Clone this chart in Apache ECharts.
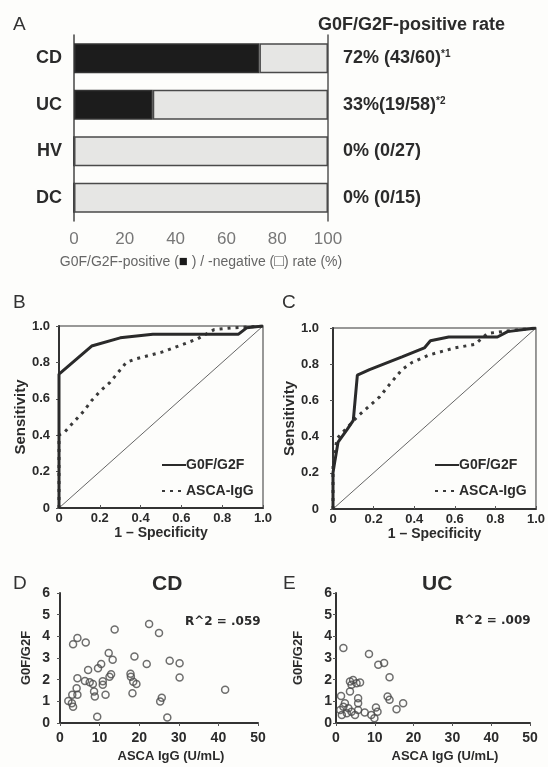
<!DOCTYPE html>
<html>
<head>
<meta charset="utf-8">
<script src="https://cdn.jsdelivr.net/npm/echarts@6/dist/echarts.min.js"></script>
<style>
    html, body { margin: 0; padding: 0; background: #fdfdfb; }
    #main { width: 548px; height: 767px; }
</style>
</head>
<body>
<div id="main"></div>
<script>
// panel A - positive / negative rate
var groups = ['CD', 'UC', 'HV', 'DC'];
var positiveRate = [73, 31, 0, 0];
var negativeRate = [27, 69, 100, 100];
var rateText = ['72% (43/60)', '33%(19/58)', '0% (0/27)', '0% (0/15)'];
var rateNote = ['*1', '*2', '', ''];
var rateTicks = [0, 20, 40, 60, 80, 100];

// panel B / C - ROC curves, [1 - specificity, sensitivity]
var rocB_g0f = [[0, 0], [0, 0.735], [0.16, 0.89], [0.30, 0.935], [0.46, 0.955], [0.88, 0.955], [0.92, 0.99], [1, 1]];
var rocB_asca = [[0, 0], [0, 0.40], [0.03, 0.42], [0.07, 0.47], [0.12, 0.53], [0.16, 0.59], [0.20, 0.64], [0.25, 0.69],
    [0.29, 0.745], [0.33, 0.80], [0.38, 0.82], [0.50, 0.855], [0.61, 0.90], [0.68, 0.93], [0.76, 0.98], [0.85, 0.99], [1, 1]];
var rocC_g0f = [[0, 0], [0, 0.20], [0.01, 0.27], [0.025, 0.37], [0.07, 0.44], [0.10, 0.49], [0.12, 0.74], [0.18, 0.77],
    [0.34, 0.84], [0.45, 0.89], [0.48, 0.93], [0.57, 0.95], [0.81, 0.95], [0.86, 0.98], [1, 1]];
var rocC_asca = [[0, 0], [0, 0.25], [0.02, 0.39], [0.07, 0.45], [0.12, 0.51], [0.18, 0.57], [0.23, 0.62], [0.28, 0.69],
    [0.34, 0.77], [0.39, 0.81], [0.47, 0.85], [0.60, 0.89], [0.70, 0.91], [0.76, 0.97], [0.91, 0.99], [1, 1]];
var chanceLine = [[0, 0], [1, 1]];

// panel D / E - ASCA IgG vs G0F/G2F
var cdAsca = [2.1, 3.1, 3.3, 3.0, 4.4, 4.2, 4.4, 3.3, 4.4, 6.5, 6.3, 7.1, 7.5, 8.3, 8.6, 8.8, 9.4, 9.6, 10.4, 10.8, 10.8,
    11.5, 12.3, 12.5, 12.9, 13.3, 13.8, 17.8, 17.9, 18.3, 18.8, 18.5, 19.3, 21.9, 22.5, 25.0, 25.3, 25.7, 27.1, 27.7, 30.2, 30.2, 41.7];
var cdG0f = [1.02, 1.3, 0.75, 0.91, 1.3, 1.6, 2.07, 3.64, 3.92, 3.72, 1.94, 2.45, 1.88, 1.8, 1.45, 1.22, 0.29, 2.53, 2.72, 1.93, 1.76,
    1.3, 3.23, 2.14, 2.25, 2.92, 4.31, 2.27, 2.14, 1.37, 3.07, 1.9, 1.8, 2.72, 4.57, 4.15, 0.99, 1.17, 0.25, 2.87, 2.76, 2.1, 1.53];
var ucAsca = [1.9, 8.5, 10.9, 12.4, 13.8, 1.3, 3.6, 4.4, 4.0, 3.6, 6.2, 5.3, 5.7, 5.7, 1.9, 3.2, 1.5, 2.8, 4.0, 4.9, 7.4,
    9.1, 9.9, 10.3, 10.7, 13.3, 13.8, 15.6, 17.3, 2.3, 1.1, 5.7];
var ucG0f = [3.46, 3.18, 2.69, 2.77, 2.11, 1.25, 1.91, 1.99, 1.76, 1.45, 1.87, 1.84, 1.14, 0.91, 0.75, 0.68, 0.37, 0.45, 0.52, 0.37, 0.48,
    0.37, 0.22, 0.72, 0.52, 1.22, 1.07, 0.63, 0.91, 0.91, 0.60, 0.6];

var FONT = 'Liberation Sans, Arial, sans-serif';
var NARROW = 'Liberation Sans Narrow, Liberation Sans, sans-serif';
var WIDE = 'DejaVu Sans, sans-serif';
var INK = '#2b2b2b';

function zip(xs, ys) {
    return xs.map(function (x, i) { return [x, ys[i]]; });
}

function fix1(v) {
    return v === 0 ? '0' : v.toFixed(1);
}

// ROC x / y axes share the same look
function rocX(grid) {
    return {
        type: 'value', gridIndex: grid, min: 0, max: 1, interval: 0.2,
        name: '1 \u2013 Specificity', nameLocation: 'middle', nameGap: 16,
        nameTextStyle: { fontFamily: FONT, fontWeight: 'bold', fontSize: 14, color: INK },
        axisLine: { lineStyle: { color: '#333', width: 2 } },
        axisTick: { inside: true, length: 3, lineStyle: { color: '#555' } },
        axisLabel: { margin: 4, formatter: fix1, fontFamily: FONT, fontWeight: 'bold', fontSize: 13, color: INK },
        splitLine: { show: false }
    };
}

function rocY(grid, labelMargin) {
    return {
        type: 'value', gridIndex: grid, min: 0, max: 1, interval: 0.2,
        name: 'Sensitivity', nameLocation: 'middle', nameGap: 30,
        nameTextStyle: { fontFamily: FONT, fontWeight: 'bold', fontSize: 15, color: INK },
        axisLine: { show: true, lineStyle: { color: '#333', width: 2 } },
        axisTick: { show: true, length: 3, lineStyle: { color: '#555' } },
        axisLabel: { margin: labelMargin, formatter: fix1, fontFamily: FONT, fontWeight: 'bold', fontSize: 13, color: INK },
        splitLine: { show: false }
    };
}

function scatterX(grid) {
    return {
        type: 'value', gridIndex: grid, min: 0, max: 50, interval: 10,
        name: 'ASCA IgG (U/mL)', nameLocation: 'middle', nameGap: 27,
        nameTextStyle: { fontFamily: FONT, fontWeight: 'bold', fontSize: 13, color: INK, padding: [0, 0, 0, 24] },
        axisLine: { lineStyle: { color: '#333', width: 2 } },
        axisTick: { length: 3, lineStyle: { color: '#555' } },
        axisLabel: { margin: 8, fontFamily: FONT, fontWeight: 'bold', fontSize: 14, color: INK },
        splitLine: { show: false }
    };
}

function scatterY(grid, labelMargin, gap) {
    return {
        type: 'value', gridIndex: grid, min: 0, max: 6, interval: 1,
        name: 'G0F/G2F', nameLocation: 'middle', nameGap: gap,
        nameTextStyle: { fontFamily: FONT, fontWeight: 'bold', fontSize: 13, color: INK },
        axisLine: { show: true, lineStyle: { color: '#333', width: 2 } },
        axisTick: { show: true, length: 3, lineStyle: { color: '#555' } },
        axisLabel: { margin: labelMargin, fontFamily: FONT, fontWeight: 'bold', fontSize: 14, color: INK },
        splitLine: { show: false }
    };
}

function rocSeries(grid, g0f, asca) {
    return [{
        name: 'chance', type: 'line', xAxisIndex: grid, yAxisIndex: grid + 1,
        data: chanceLine, symbol: 'none', lineStyle: { color: '#666', width: 1 }, z: 1
    }, {
        name: 'ASCA-IgG', type: 'line', xAxisIndex: grid, yAxisIndex: grid + 1,
        data: asca, symbol: 'none', lineStyle: { color: '#3a3a3a', width: 3, type: [3, 5] }, itemStyle: { color: '#3a3a3a' }, z: 2
    }, {
        name: 'G0F/G2F', type: 'line', xAxisIndex: grid, yAxisIndex: grid + 1,
        data: g0f, symbol: 'none', lineStyle: { color: '#2a2a2a', width: 3 }, itemStyle: { color: '#2a2a2a' }, z: 3
    }];
}

function rocLegend(left) {
    return {
        left: left, top: 453, orient: 'vertical', itemGap: 12,
        itemWidth: 24, itemHeight: 14,
        data: ['G0F/G2F', 'ASCA-IgG'],
        // hide the centre symbol, keep the line sample
        itemStyle: { opacity: 0 },
        textStyle: { fontFamily: FONT, fontWeight: 'bold', fontSize: 14, color: INK, padding: [0, 0, 0, -5] },
        selectedMode: false
    };
}

function pointSeries(grid, xs, ys) {
    return {
        type: 'scatter', xAxisIndex: grid, yAxisIndex: grid + 1,
        data: zip(xs, ys), symbol: 'circle', symbolSize: 7,
        itemStyle: { color: 'rgba(0,0,0,0)', borderColor: '#4a4a4a', borderWidth: 1.5 }
    };
}

var chart = echarts.init(document.getElementById('main'));

var letter = { fontFamily: FONT, fontWeight: 'normal', fontSize: 19, color: '#333' };

var option = {
    backgroundColor: '#fdfdfb',
    animation: false,
    title: [
        { text: 'A', left: 13, top: 15, padding: 0, textStyle: letter },
        { text: 'G0F/G2F-positive rate', left: 318, top: 16, padding: 0,
            textStyle: { fontFamily: FONT, fontWeight: 'bold', fontSize: 18, color: INK } },
        { text: 'B', left: 13, top: 293, padding: 0, textStyle: letter },
        { text: 'C', left: 282, top: 293, padding: 0, textStyle: letter },
        { text: 'D', left: 13, top: 574, padding: 0, textStyle: letter },
        { text: 'E', left: 283, top: 574, padding: 0, textStyle: letter },
        { text: 'CD', left: 152, top: 574, padding: 0,
            textStyle: { fontFamily: FONT, fontWeight: 'bold', fontSize: 21, color: INK } },
        { text: 'UC', left: 422, top: 574, padding: 0,
            textStyle: { fontFamily: FONT, fontWeight: 'bold', fontSize: 21, color: INK } },
        { text: 'R^2 = .059', left: 185, top: 616, padding: 0,
            textStyle: { fontFamily: WIDE, fontWeight: 'bold', fontSize: 12, color: INK } },
        { text: 'R^2 = .009', left: 455, top: 615, padding: 0,
            textStyle: { fontFamily: WIDE, fontWeight: 'bold', fontSize: 12, color: INK } }
    ],
    legend: [rocLegend(156), rocLegend(429)],
    grid: [
        { left: 74, top: 35, width: 254, height: 186 },
        { left: 59, top: 326, width: 204, height: 182, show: true, borderColor: '#777', borderWidth: 1.5, backgroundColor: 'transparent' },
        { left: 333, top: 328, width: 206, height: 181, show: true, borderColor: '#777', borderWidth: 1.5, backgroundColor: 'transparent' },
        { left: 60, top: 593, width: 198, height: 130 },
        { left: 336, top: 593, width: 194, height: 130 }
    ],
    xAxis: [
        {
            type: 'value', gridIndex: 0, min: rateTicks[0], max: rateTicks[rateTicks.length - 1], interval: 20,
            name: 'G0F/G2F-positive ({k|\u25A0} ) / -negative ({w|\u25A1}) rate (%)',
            nameLocation: 'middle', nameGap: 33,
            nameTextStyle: {
                fontFamily: NARROW, fontSize: 14, color: '#666',
                rich: {
                    k: { fontSize: 15, color: '#1a1a1a' },
                    w: { fontSize: 16, color: '#555' }
                }
            },
            axisLine: { lineStyle: { color: '#555', width: 1.5 } },
            axisTick: { length: 6, lineStyle: { color: '#666' } },
            axisLabel: { margin: 10, fontFamily: NARROW, fontSize: 17, color: '#777' },
            splitLine: { show: false }
        },
        rocX(1),
        rocX(2),
        scatterX(3),
        scatterX(4)
    ],
    yAxis: [
        {
            type: 'category', gridIndex: 0, data: groups, inverse: true,
            axisLine: { lineStyle: { color: '#444', width: 1.5 } },
            axisTick: { show: false },
            axisLabel: { margin: 12, fontFamily: FONT, fontWeight: 'bold', fontSize: 18, color: INK }
        },
        {
            // right frame line of panel A
            type: 'category', gridIndex: 0, data: groups, inverse: true, position: 'right',
            axisLine: { show: true, lineStyle: { color: '#555', width: 1.5 } },
            axisTick: { show: false },
            axisLabel: { show: false }
        },
        rocY(1, 9),
        rocY(2, 14),
        scatterY(3, 10, 27),
        scatterY(4, 4, 31)
    ],
    series: [
        {
            name: 'positive', type: 'bar', stack: 'rate', xAxisIndex: 0, yAxisIndex: 0,
            barWidth: 30, data: positiveRate,
            itemStyle: { color: '#1c1c1c', borderColor: '#333', borderWidth: 1.5 }
        },
        {
            name: 'negative', type: 'bar', stack: 'rate', xAxisIndex: 0, yAxisIndex: 0,
            barWidth: 30, data: negativeRate,
            itemStyle: { color: '#e6e6e4', borderColor: '#4a4a4a', borderWidth: 1.5 },
            label: {
                show: true, position: 'right', distance: 15,
                fontFamily: FONT, fontWeight: 'bold', fontSize: 18, color: INK,
                formatter: function (p) {
                    var note = rateNote[p.dataIndex];
                    return rateText[p.dataIndex] + (note ? '{s|' + note + '}' : '');
                },
                rich: {
                    s: { fontFamily: FONT, fontWeight: 'bold', fontSize: 10, color: INK, verticalAlign: 'top', padding: [0, 0, 8, 0] }
                }
            }
        }
    ]
        .concat(rocSeries(1, rocB_g0f, rocB_asca))
        .concat(rocSeries(2, rocC_g0f, rocC_asca))
        .concat([pointSeries(3, cdAsca, cdG0f), pointSeries(4, ucAsca, ucG0f)])
};

chart.setOption(option);
</script>
</body>
</html>
